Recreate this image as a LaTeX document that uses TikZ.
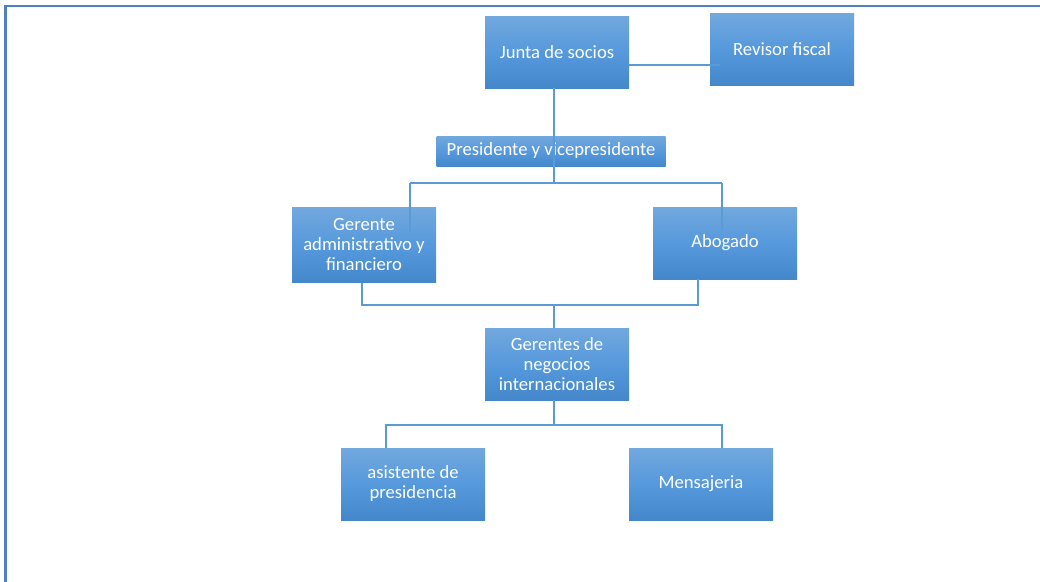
\documentclass[tikz,border=0pt]{standalone}
\usepackage{fontspec}
\setmainfont{Carlito}
\definecolor{cargoTop}{RGB}{114,168,222}
\definecolor{cargoMid}{RGB}{86,153,220}
\definecolor{cargoBot}{RGB}{68,135,203}
\definecolor{linea}{RGB}{91,155,213}
\definecolor{marco}{RGB}{79,129,189}

\begin{document}
\begin{tikzpicture}[x=0.75pt,y=-0.75pt,
  cargo/.style={draw=none,top color=cargoTop,bottom color=cargoBot,middle color=cargoMid,
    text=white,align=center,inner sep=2pt,minimum width=108pt,minimum height=54pt,
    font=\fontsize{14}{15}\selectfont},
  enlace/.style={draw=linea,line width=1.2pt}]

  \useasboundingbox (0,0) rectangle (1040,582);
  \draw[marco,line width=2pt] (5.5,582) -- (5.5,6) -- (1040,6);

  \node[cargo] (junta) at (557,52) {Junta de socios};
  \node[cargo] (revisor) at (782,49) {Revisor fiscal};
  \node[cargo,minimum width=171.75pt,minimum height=22.5pt] (pres) at (551,151) {Presidente y vicepresidente};
  \node[cargo,minimum height=56.25pt] (gerente) at (364,245) {Gerente\\administrativo y\\financiero};
  \node[cargo] (abogado) at (725,243) {Abogado};
  \node[cargo] (negocios) at (557,364) {Gerentes de\\negocios\\internacionales};
  \node[cargo] (asistente) at (413,484) {asistente de\\presidencia};
  \node[cargo] (mensajeria) at (701,484) {Mensajeria};

  \coordinate (ligaR) at (629,65);
  \coordinate (barraA) at (554,183);
  \coordinate (ramaG) at (410,183);
  \coordinate (ramaA) at (722,183);
  \coordinate (barraB) at (554,305);
  \coordinate (bajaG) at (362,305);
  \coordinate (bajaA) at (698,305);
  \coordinate (barraC) at (554,425);
  \coordinate (ramaS) at (386,425);
  \coordinate (ramaM) at (722,425);

  % junta -- revisor
  \draw[enlace] (ligaR -| junta.east) -- ([xshift=8pt]ligaR -| revisor.west);
  % junta -- presidente -- gerente / abogado
  \draw[enlace] (junta.south -| barraA) -- (barraA);
  \draw[enlace] (ramaG) -- (ramaA);
  \draw[enlace] (ramaG) -- ([yshift=-18.75pt]ramaG |- gerente.north);
  \draw[enlace] (ramaA) -- ([yshift=-18pt]ramaA |- abogado.north);
  % gerente / abogado -- negocios
  \draw[enlace] (gerente.south -| bajaG) -- (bajaG) -- (bajaA) -- (abogado.south -| bajaA);
  \draw[enlace] (barraB) -- (negocios.north -| barraB);
  % negocios -- asistente / mensajeria
  \draw[enlace] (negocios.south -| barraC) -- (barraC);
  \draw[enlace] (asistente.north -| ramaS) -- (ramaS) -- (ramaM) -- (mensajeria.north -| ramaM);

\end{tikzpicture}
\end{document}
